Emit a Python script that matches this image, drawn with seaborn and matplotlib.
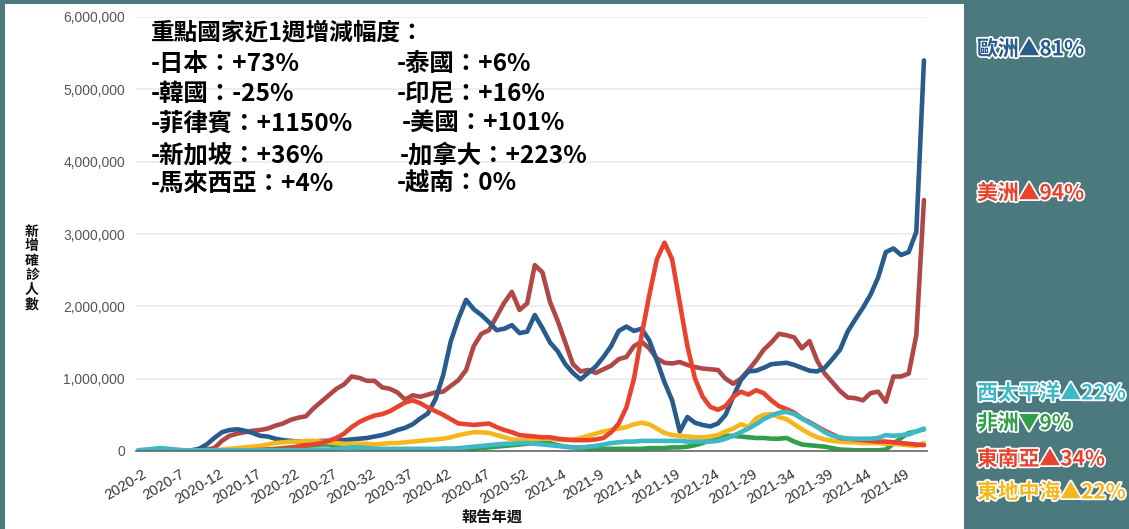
import numpy as np
import pandas as pd
import matplotlib
matplotlib.use("Agg")
import matplotlib.pyplot as plt
import matplotlib.patheffects as pe
from matplotlib.patches import Rectangle
from matplotlib.ticker import FuncFormatter
from matplotlib.transforms import ScaledTranslation
import seaborn as sns

# report weeks (x categories)
weeks = [f"2020-{w}" for w in range(2, 54)] + [f"2021-{w}" for w in range(1, 53)]

# weekly new confirmed cases (millions)
europe = [
    0.0, 0.0, 0.0, 0.0, 0.0, 0.0, 0.0, 0.01, 0.03, 0.09,
    0.18, 0.26, 0.29, 0.30, 0.28, 0.25, 0.21, 0.20, 0.17, 0.15,
    0.14, 0.13, 0.13, 0.13, 0.14, 0.14, 0.15, 0.15, 0.16, 0.17,
    0.18, 0.20, 0.22, 0.25, 0.29, 0.32, 0.37, 0.45, 0.52, 0.72,
    1.05, 1.52, 1.83, 2.09, 1.96, 1.88, 1.78, 1.67, 1.69, 1.74,
    1.63, 1.65, 1.88, 1.70, 1.50, 1.38, 1.20, 1.08, 0.99, 1.08,
    1.17, 1.30, 1.45, 1.66, 1.72, 1.66, 1.69, 1.53, 1.25, 0.95,
    0.70, 0.27, 0.47, 0.39, 0.36, 0.34, 0.38, 0.50, 0.75, 0.98,
    1.10, 1.11, 1.15, 1.20, 1.21, 1.22, 1.19, 1.15, 1.11, 1.10,
    1.15, 1.27, 1.40, 1.65, 1.82, 1.98, 2.16, 2.40, 2.75, 2.80,
    2.71, 2.75, 3.03, 5.40]
americas = [
    0.0, 0.0, 0.0, 0.0, 0.0, 0.0, 0.0, 0.0, 0.01, 0.02,
    0.04, 0.14, 0.21, 0.24, 0.26, 0.28, 0.29, 0.31, 0.35, 0.38,
    0.43, 0.46, 0.48, 0.59, 0.68, 0.77, 0.86, 0.92, 1.03, 1.01,
    0.97, 0.97, 0.88, 0.86, 0.81, 0.71, 0.77, 0.75, 0.78, 0.81,
    0.82, 0.90, 0.98, 1.12, 1.45, 1.62, 1.67, 1.86, 2.05, 2.20,
    1.95, 2.04, 2.57, 2.47, 2.06, 1.80, 1.50, 1.20, 1.10, 1.12,
    1.08, 1.13, 1.18, 1.27, 1.30, 1.45, 1.51, 1.42, 1.28, 1.22,
    1.21, 1.23, 1.19, 1.16, 1.14, 1.13, 1.12, 1.00, 0.93, 1.00,
    1.12, 1.25, 1.40, 1.50, 1.62, 1.60, 1.57, 1.42, 1.52, 1.25,
    1.07, 0.95, 0.83, 0.74, 0.73, 0.70, 0.80, 0.82, 0.68, 1.03,
    1.03, 1.07, 1.60, 3.47]
se_asia = [
    0.0, 0.0, 0.0, 0.0, 0.0, 0.0, 0.0, 0.0, 0.0, 0.0,
    0.0, 0.0, 0.005, 0.01, 0.01, 0.01, 0.015, 0.02, 0.02, 0.03,
    0.04, 0.06, 0.08, 0.09, 0.11, 0.14, 0.18, 0.24, 0.33, 0.40,
    0.45, 0.49, 0.51, 0.55, 0.61, 0.67, 0.70, 0.66, 0.60, 0.55,
    0.50, 0.44, 0.38, 0.37, 0.36, 0.37, 0.38, 0.33, 0.29, 0.26,
    0.22, 0.21, 0.20, 0.19, 0.19, 0.17, 0.16, 0.15, 0.15, 0.15,
    0.16, 0.18, 0.26, 0.38, 0.60, 1.00, 1.60, 2.15, 2.65, 2.88,
    2.65, 2.05, 1.45, 1.00, 0.75, 0.61, 0.57, 0.62, 0.75, 0.82,
    0.78, 0.84, 0.80, 0.70, 0.62, 0.58, 0.53, 0.45, 0.40, 0.34,
    0.28, 0.23, 0.18, 0.17, 0.16, 0.15, 0.14, 0.13, 0.13, 0.12,
    0.11, 0.10, 0.09, 0.08]
e_med = [
    0.0, 0.0, 0.0, 0.0, 0.0, 0.0, 0.0, 0.0, 0.0, 0.005,
    0.01, 0.02, 0.03, 0.04, 0.05, 0.06, 0.07, 0.09, 0.11, 0.12,
    0.13, 0.13, 0.14, 0.14, 0.13, 0.12, 0.11, 0.10, 0.10, 0.10,
    0.10, 0.09, 0.10, 0.11, 0.11, 0.12, 0.13, 0.14, 0.15, 0.16,
    0.17, 0.19, 0.22, 0.24, 0.26, 0.26, 0.25, 0.22, 0.19, 0.16,
    0.15, 0.15, 0.16, 0.17, 0.17, 0.16, 0.15, 0.16, 0.18, 0.21,
    0.24, 0.27, 0.29, 0.31, 0.33, 0.37, 0.39, 0.37, 0.31, 0.25,
    0.22, 0.21, 0.20, 0.19, 0.19, 0.20, 0.22, 0.27, 0.31, 0.37,
    0.33, 0.45, 0.50, 0.51, 0.47, 0.44, 0.37, 0.30, 0.24, 0.19,
    0.16, 0.14, 0.13, 0.12, 0.12, 0.11, 0.11, 0.11, 0.10, 0.10,
    0.09, 0.08, 0.07, 0.11]
w_pacific = [
    0.01, 0.02, 0.03, 0.04, 0.03, 0.02, 0.01, 0.01, 0.01, 0.01,
    0.01, 0.01, 0.01, 0.01, 0.01, 0.01, 0.01, 0.01, 0.01, 0.01,
    0.01, 0.01, 0.01, 0.02, 0.02, 0.02, 0.03, 0.04, 0.05, 0.05,
    0.04, 0.03, 0.03, 0.03, 0.03, 0.03, 0.03, 0.03, 0.03, 0.03,
    0.03, 0.03, 0.04, 0.05, 0.06, 0.07, 0.08, 0.09, 0.10, 0.10,
    0.11, 0.11, 0.10, 0.09, 0.08, 0.07, 0.06, 0.05, 0.05, 0.06,
    0.07, 0.09, 0.11, 0.12, 0.13, 0.13, 0.14, 0.14, 0.14, 0.14,
    0.14, 0.14, 0.13, 0.13, 0.13, 0.13, 0.14, 0.17, 0.21, 0.26,
    0.31, 0.37, 0.44, 0.49, 0.53, 0.54, 0.51, 0.45, 0.39, 0.33,
    0.26, 0.21, 0.19, 0.17, 0.17, 0.17, 0.17, 0.18, 0.22, 0.21,
    0.22, 0.23, 0.27, 0.31]
africa = [
    0.0, 0.0, 0.0, 0.0, 0.0, 0.0, 0.0, 0.0, 0.0, 0.0,
    0.0, 0.0, 0.0, 0.0, 0.005, 0.01, 0.01, 0.02, 0.03, 0.04,
    0.05, 0.06, 0.07, 0.08, 0.09, 0.09, 0.08, 0.07, 0.05, 0.04,
    0.03, 0.03, 0.025, 0.02, 0.02, 0.02, 0.02, 0.02, 0.02, 0.02,
    0.03, 0.03, 0.03, 0.03, 0.03, 0.04, 0.05, 0.06, 0.07, 0.08,
    0.09, 0.10, 0.12, 0.13, 0.11, 0.08, 0.06, 0.05, 0.04, 0.03,
    0.03, 0.03, 0.03, 0.03, 0.03, 0.03, 0.03, 0.04, 0.04, 0.04,
    0.05, 0.05, 0.06, 0.08, 0.11, 0.15, 0.18, 0.21, 0.21, 0.20,
    0.19, 0.18, 0.18, 0.17, 0.17, 0.18, 0.13, 0.09, 0.08, 0.07,
    0.06, 0.04, 0.02, 0.015, 0.01, 0.01, 0.01, 0.01, 0.02, 0.10,
    0.18, 0.25, 0.27, 0.30]

regions = ["美洲", "歐洲", "非洲", "東地中海", "東南亞", "西太平洋"]
series = [americas, europe, africa, e_med, se_asia, w_pacific]
line_colors = ["#b04848", "#275c8c", "#2f9f4b", "#f4b81d", "#e8432f", "#3db8c4"]

side_labels = ["歐洲▲81%", "美洲▲94%", "西太平洋▲22%", "非洲▼9%", "東南亞▲34%", "東地中海▲22%"]
side_colors = ["#275c8c", "#e8432f", "#3db8c4", "#2f9f4b", "#e8432f", "#f4b81d"]

note_title = "重點國家近1週增減幅度："
note_left = ["-日本：+73%", "-韓國：-25%", "-菲律賓：+1150%", "-新加坡：+36%", "-馬來西亞：+4%"]
note_right = ["-泰國：+6%", "-印尼：+16%", "-美國：+101%", "-加拿大：+223%", "-越南：0%"]

y_title = "新增確診人數"
x_title = "報告年週"

# ---------------------------------------------------------------
for s in series:
    assert len(s) == len(weeks)

rows = []
for name, vals in zip(regions, series):
    for i, v in enumerate(vals):
        rows.append({"idx": i, "cases": v * 1_000_000, "region": name})
df = pd.DataFrame(rows)

sns.set_style("white")
plt.rcParams["font.family"] = ["Noto Sans CJK TC", "DejaVu Sans"]
plt.rcParams["lines.solid_joinstyle"] = "round"
plt.rcParams["lines.solid_capstyle"] = "round"

W, H = 1129, 529
fig = plt.figure(figsize=(W / 100, H / 100), dpi=100)
fig.patch.set_facecolor("#4c797e")


def fx(px):
    return px / W


def fy(py):
    return 1 - py / H


fig.add_artist(Rectangle((fx(5), 0), (964 - 5) / W, (H - 4) / H,
                         transform=fig.transFigure, facecolor="white",
                         edgecolor="none", zorder=-1))

ax = fig.add_axes([fx(136), fy(451), (927 - 136) / W, (451 - 17) / H])
ax.set_facecolor("white")

sns.lineplot(data=df, x="idx", y="cases", hue="region", hue_order=regions,
             palette=dict(zip(regions, line_colors)), estimator=None,
             linewidth=3.3, legend=False, ax=ax)

ax.set_xlim(-0.26, 103.4)
ax.set_ylim(0, 6_000_000)
ax.set_yticks(np.arange(0, 6_000_001, 1_000_000))
ax.yaxis.set_major_formatter(FuncFormatter(lambda v, p: f"{int(v):,}"))
tick_idx = list(range(0, len(weeks), 5))
ax.set_xticks(tick_idx)
ax.set_xticklabels([weeks[i] for i in tick_idx], rotation=31, ha="right",
                   va="top", rotation_mode="anchor", fontsize=10.5,
                   color="#333333", family="Liberation Sans")
ax.tick_params(axis="x", length=0, pad=0)
ax.tick_params(axis="y", length=0, pad=8, labelsize=10, labelcolor="#555555")
for lab in ax.get_yticklabels():
    lab.set_family("Liberation Sans")
offset = ScaledTranslation(0.04, -0.16, fig.dpi_scale_trans)
for lab in ax.get_xticklabels():
    lab.set_transform(lab.get_transform() + offset)

ax.set_xlabel("")
ax.set_ylabel("")
ax.yaxis.grid(True, color="#ebebeb", linewidth=1.2)
ax.xaxis.grid(False)
ax.set_axisbelow(True)
for side in ["top", "right", "left"]:
    ax.spines[side].set_visible(False)
ax.spines["bottom"].set_color("#666666")
ax.spines["bottom"].set_linewidth(1.2)

# axis titles
fig.text(fx(32), fy(268), "\n".join(y_title), ha="center", va="center",
         fontsize=10, weight="bold", color="#111111", linespacing=1.05)
fig.text(fx(492), fy(517), x_title, ha="center", va="center",
         fontsize=11, weight="bold", color="#111111")

# note block
fig.text(fx(151), fy(33), note_title, ha="left", va="center", fontsize=17,
         weight="bold", color="black")
row_y = [64, 94, 124, 155, 184]
right_x = [397, 397, 402, 400, 397]
for t, yy in zip(note_left, row_y):
    fig.text(fx(151), fy(yy), t, ha="left", va="center", fontsize=17.6,
             weight="bold", color="black")
for t, yy, xx in zip(note_right, row_y, right_x):
    fig.text(fx(xx), fy(yy), t, ha="left", va="center", fontsize=17.6,
             weight="bold", color="black")

# right-side region labels
side_y = [49, 193, 393, 423, 459, 492]
for t, c, yy in zip(side_labels, side_colors, side_y):
    fig.text(fx(977), fy(yy), t, ha="left", va="center", fontsize=15,
             weight="bold", color=c,
             path_effects=[pe.withStroke(linewidth=2.5, foreground="white")])

fig.savefig("out.png", dpi=100, facecolor=fig.get_facecolor())
